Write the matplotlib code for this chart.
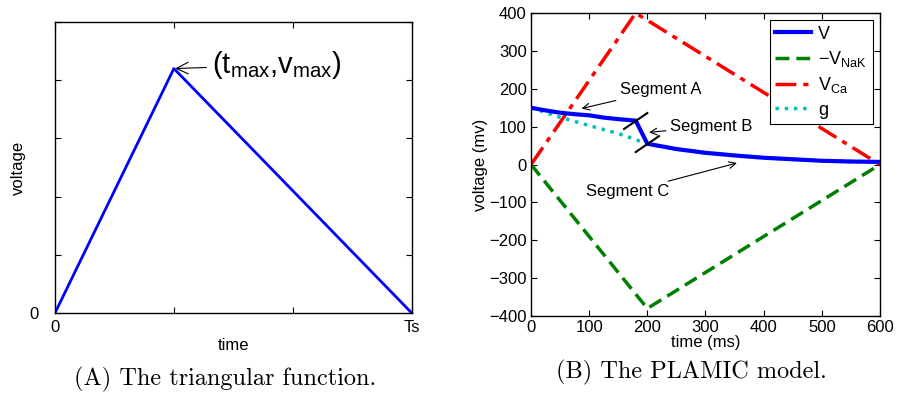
import numpy as np
import matplotlib
matplotlib.use("Agg")
import matplotlib.pyplot as plt

plt.rcParams['font.family'] = ['Liberation Sans', 'DejaVu Sans']
plt.rcParams['mathtext.fontset'] = 'custom'
plt.rcParams['mathtext.rm'] = 'Liberation Sans'
plt.rcParams['mathtext.it'] = 'Liberation Sans'

# (A) triangular function
tri_t = [0, 1, 3]
tri_v = [0, 4.2, 0]

# (B) PLAMIC model
t_A = [0, 25, 50, 75, 100, 125, 150, 180]
v_A = [150, 143, 137, 133, 130, 124, 120, 116]
t_C = [200, 250, 300, 350, 400, 450, 500, 550, 600]
v_C = [55, 41, 31, 24, 18, 14, 10, 8, 7]
t_g = [0, 50, 100, 150, 200]
g_A = [150, 125, 103, 82, 55]
t_nak = [0, 200, 600]
v_nak = [0, -380, 0]
t_ca = [0, 180, 600]
v_ca = [0, 400, 0]

fig = plt.figure(figsize=(8.97, 3.97), dpi=100)

def matlab_box(ax, size=12):
    ax.tick_params(direction='in', top=True, right=True, length=4, width=0.8,
                   labelsize=size, pad=3)
    for s in ax.spines.values():
        s.set_linewidth(1.0)

# ---- left panel
ax1 = fig.add_axes([0.0613, 0.2116, 0.3977, 0.733])
ax1.plot(tri_t, tri_v, color='blue', lw=2)
ax1.set_xlim(0, 3)
ax1.set_ylim(0, 5)
ax1.set_xticks([0, 1, 2, 3])
ax1.set_xticklabels(['0', '', '', 'Ts'])
ax1.set_yticks([0, 1, 2, 3, 4, 5])
ax1.set_yticklabels(['0', '', '', '', '', ''])
matlab_box(ax1)
ax1.tick_params(axis='y', pad=12)
ax1.tick_params(axis='x', pad=5)
ax1.set_xlabel('time', fontsize=12, labelpad=2)
ax1.set_ylabel('voltage', fontsize=12, labelpad=2)
ax1.annotate(r'(t$_\mathregular{max}$,v$_\mathregular{max}$)', xy=(tri_t[1], tri_v[1]),
             xytext=(1.32, 4.12), fontsize=21,
             arrowprops=dict(arrowstyle='->', color='black', lw=0.8, shrinkA=2, shrinkB=1))

# ---- right panel
ax2 = fig.add_axes([0.592, 0.204, 0.389, 0.763])
V_t = t_A + t_C
V_v = v_A + v_C
ax2.plot(t_C, v_C, color='#00bfbf', lw=2.5, ls=':', zorder=2)
ax2.plot(V_t, V_v, color='blue', lw=3, label='V', zorder=3)
ax2.plot(t_nak, v_nak, color='#008000', lw=2.5, ls='--', dashes=(4, 2), label=r'$-$V$_\mathregular{NaK}$')
ax2.plot(t_ca, v_ca, color='red', lw=2.5, ls='-.', dashes=(6, 2, 1.5, 2), label=r'V$_\mathregular{Ca}$')
ax2.plot(t_g, g_A, color='#00bfbf', lw=2.5, ls=':', label='g', zorder=2)
ax2.set_xlim(0, 600)
ax2.set_ylim(-400, 400)
ax2.set_xticks(range(0, 601, 100))
ax2.set_yticks(range(-400, 401, 100))
ax2.set_yticklabels([str(v).replace('-', '\u2212') for v in range(-400, 401, 100)])
matlab_box(ax2)
ax2.set_xlabel('time (ms)', fontsize=12, labelpad=0)
ax2.set_ylabel('voltage (mv)', fontsize=12, labelpad=1)

# segment separators
for (tb, vb) in [(t_A[-1], v_A[-1]), (t_C[0], v_C[0])]:
    ax2.plot([tb - 20, tb + 20], [vb - 22, vb + 20], color='black', lw=1.5, zorder=4)

arrow = dict(arrowstyle='->', color='black', lw=0.8, shrinkA=1, shrinkB=0)
ax2.annotate('Segment A', xy=(87, 148), xytext=(153, 197), fontsize=12, va='center', arrowprops=arrow)
ax2.annotate('Segment B', xy=(203, 85), xytext=(239, 101), fontsize=12, va='center', arrowprops=arrow)
ax2.annotate('Segment C', xy=(354, 4), xytext=(95, -72), fontsize=12, va='center', arrowprops=arrow)

leg = ax2.legend(loc='upper right', fontsize=13, handlelength=2.0, fancybox=False,
                 framealpha=1, edgecolor='black', borderpad=0.3, labelspacing=0.35,
                 handletextpad=0.4, borderaxespad=0.4)
leg.get_frame().set_linewidth(0.8)

fig.text(0.251, 0.043, '(A) The triangular function.', ha='center', va='center',
         fontsize=17.5, family='cmr10')
fig.text(0.771, 0.063, '(B) The PLAMIC model.', ha='center', va='center',
         fontsize=17.5, family='cmr10')

fig.savefig('out.png', dpi=100)
